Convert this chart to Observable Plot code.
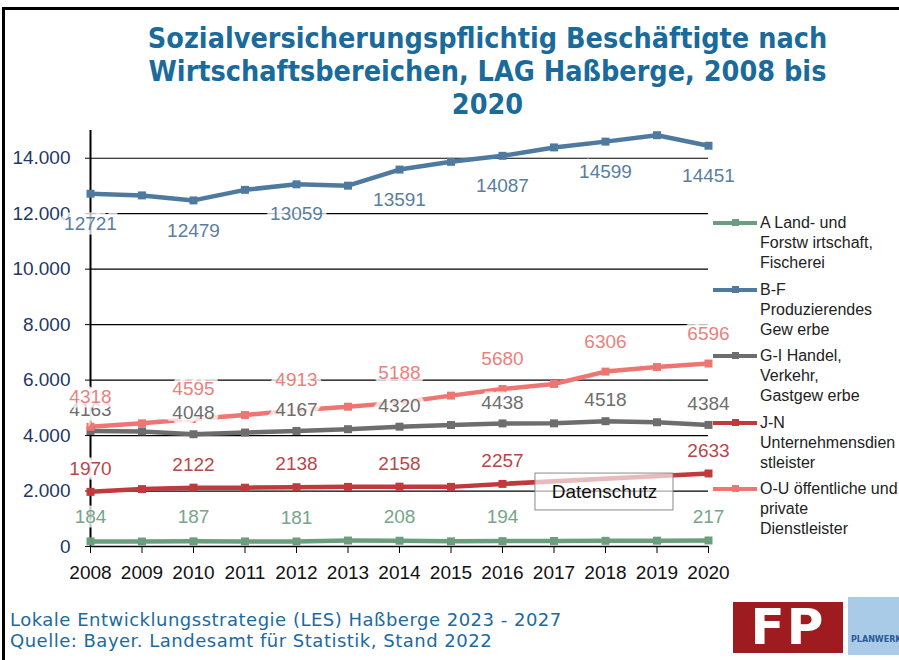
<!DOCTYPE html>
<html><head><meta charset="utf-8">
<script src="https://cdn.jsdelivr.net/npm/d3@7"></script>
<script src="https://cdn.jsdelivr.net/npm/@observablehq/plot@0.6"></script>
<style>
html,body{margin:0;padding:0;overflow:hidden;background:#fff;}
#page{position:relative;width:899px;height:660px;overflow:hidden;font-family:"Liberation Sans",Arial,sans-serif;}
#frame{position:absolute;left:2px;top:7px;width:930px;height:700px;border-left:3px solid #000;border-top:3px solid #000;}
#title{position:absolute;left:60px;width:855px;top:22px;text-align:center;font-family:"DejaVu Sans";font-stretch:condensed;font-weight:bold;font-size:28.5px;line-height:33px;color:#1a6b9c;}
#chart{position:absolute;left:0;top:120px;}
.leg{position:absolute;left:760px;font-size:16px;line-height:20px;color:#222;white-space:nowrap;}
.sw{position:absolute;left:708px;}
#footer{position:absolute;left:10px;top:609px;font-family:"DejaVu Sans";font-size:18px;letter-spacing:0.5px;line-height:21px;color:#1c6aa0;white-space:nowrap;}
#logo1{position:absolute;left:733px;top:602px;width:110px;height:51px;background:#9e1b20;color:#fff;font:bold 50px/51px "DejaVu Sans";text-align:center;letter-spacing:2px;}
#logo2{position:absolute;left:848px;top:597px;width:60px;height:58px;background:#a9cbe8;overflow:hidden;}
#logo2 span{position:absolute;left:3px;top:38px;font:bold 8px "DejaVu Sans";color:#2a5a9a;}
</style></head>
<body><div id="page">
<div id="frame"></div>
<div id="title">Sozialversicherungspflichtig Beschäftigte nach<br>Wirtschaftsbereichen, LAG Haßberge, 2008 bis<br>2020</div>
<div id="chart"></div>
<div id="legend"></div>
<div id="footer">Lokale Entwicklungsstrategie (LES) Haßberge 2023 - 2027<br>Quelle: Bayer. Landesamt für Statistik, Stand 2022</div>
<div id="logo1">FP</div>
<div id="logo2"><span>PLANWERK</span></div>
</div>
<script>
const years = [2008, 2009, 2010, 2011, 2012, 2013, 2014, 2015, 2016, 2017, 2018, 2019, 2020];
const seriesNames = ["A", "B-F", "G-I", "J-N", "O-U"];
const legendLabels = [
  ["A Land- und", "Forstw irtschaft,", "Fischerei"],
  ["B-F", "Produzierendes", "Gew erbe"],
  ["G-I Handel,", "Verkehr,", "Gastgew erbe"],
  ["J-N", "Unternehmensdien", "stleister"],
  ["O-U öffentliche und", "private", "Dienstleister"]
];
const valuesA  = [184, 180, 187, 183, 181, 215, 208, 186, 194, 200, 205, 210, 217];
const valuesBF = [12721, 12660, 12479, 12860, 13059, 13010, 13591, 13870, 14087, 14390, 14599, 14830, 14451];
const valuesGI = [4163, 4150, 4048, 4110, 4167, 4230, 4320, 4380, 4438, 4440, 4518, 4480, 4384];
const valuesJN = [1970, 2070, 2122, 2120, 2138, 2150, 2158, 2150, 2257, null, null, null, 2633];
const valuesOU = [4318, 4440, 4595, 4740, 4913, 5040, 5188, 5440, 5680, 5860, 6306, 6470, 6596];
// years whose value is labelled, per series (2018 hidden behind "Datenschutz" for A and J-N)
const labelYears = [2008, 2010, 2012, 2014, 2016, 2018, 2020];
const hiddenLabelYears = {"A": [2018], "J-N": [2018]};
const yTicks = [0, 2000, 4000, 6000, 8000, 10000, 12000, 14000];
const annotation = [{text: "Datenschutz", x1: 2016.64, x2: 2019.32, y1: 1300, y2: 2630, x: 2017.98, y: 1965}];

const allValues = [valuesA, valuesBF, valuesGI, valuesJN, valuesOU];
const lineColors  = ["#6b9e7c", "#4f7aa0", "#6d6d6d", "#c0393d", "#ee7672"];
const labelColors = ["#76a687", "#5a7e9e", "#6e6e6e", "#b8474a", "#e9827d"];
const labelDy     = [-24, 30, -21, -23, -30];

const data = [];
seriesNames.forEach((s, i) => years.forEach((y, j) => {
  const v = allValues[i][j];
  if (v != null) data.push({series: s, year: y, value: v});
}));

const fmt = d => d3.format(",")(d).replace(/,/g, ".");

const labelMarks = seriesNames.map((s, i) =>
  Plot.text(data.filter(d => d.series === s && labelYears.includes(d.year) && !(hiddenLabelYears[s] || []).includes(d.year)), {
    x: "year", y: "value", text: d => String(d.value), dy: labelDy[i],
    fill: labelColors[i], stroke: "white", strokeWidth: 9, strokeOpacity: 0.75,
    paintOrder: "stroke", fontSize: 19, strokeLinejoin: "miter"
  })
);

const chart = Plot.plot({
  width: 780, height: 470,
  marginLeft: 90, marginRight: 72, marginTop: 10, marginBottom: 44,
  x: {domain: [2008, 2020]},
  y: {domain: [0, 15000]},
  color: {domain: seriesNames, range: lineColors},
  style: {fontFamily: "'Liberation Sans', Arial, sans-serif", fontSize: "19px", background: "transparent", overflow: "visible"},
  marks: [
    Plot.gridY(yTicks.filter(d => d > 0), {stroke: "#000", strokeOpacity: 1, strokeWidth: 1.2}),
    Plot.axisY({ticks: yTicks, tickFormat: fmt, tickSize: 5, tickPadding: 15, fontSize: 19, fill: "#1f3864", stroke: "#000", label: null}),
    Plot.axisX({ticks: years, tickFormat: d => String(d), tickSize: 7, tickPadding: 12, fontSize: 19, fill: "#111", stroke: "#000", label: null}),
    Plot.ruleY([0], {stroke: "#000", strokeWidth: 1.5}),
    Plot.ruleX([2008], {y1: 0, y2: 15000, stroke: "#000", strokeWidth: 2}),
    Plot.line(data, {x: "year", y: "value", z: "series", stroke: "series", strokeWidth: 4.5}),
    Plot.dot(data, {x: "year", y: "value", fill: "series", symbol: "square", r: 4.5}),
    Plot.rect(annotation, {x1: "x1", x2: "x2", y1: "y1", y2: "y2", fill: "white", fillOpacity: 0.65, stroke: "#8a8a8a", strokeWidth: 1}),
    Plot.text(annotation, {x: "x", y: "y", text: "text", fontSize: 19, fill: "#111"}),
    ...labelMarks
  ]
});
document.getElementById("chart").appendChild(chart);

// legend
const legend = document.getElementById("legend");
const legendCenters = [223, 289.5, 356, 422.5, 489];
legendLabels.forEach((lines, i) => {
  const c = legendCenters[i];
  const sw = document.createElementNS("http://www.w3.org/2000/svg", "svg");
  sw.setAttribute("class", "sw");
  sw.setAttribute("width", 52); sw.setAttribute("height", 12);
  sw.style.top = (c - 6) + "px";
  sw.innerHTML = `<line x1="5" x2="49" y1="6" y2="6" stroke="${lineColors[i]}" stroke-width="4"/><rect x="24" y="2" width="7" height="7" fill="${lineColors[i]}"/>`;
  legend.appendChild(sw);
  const t = document.createElement("div");
  t.className = "leg";
  t.style.top = (c - 10) + "px";
  t.innerHTML = lines.join("<br>");
  legend.appendChild(t);
});
</script>
</body></html>
